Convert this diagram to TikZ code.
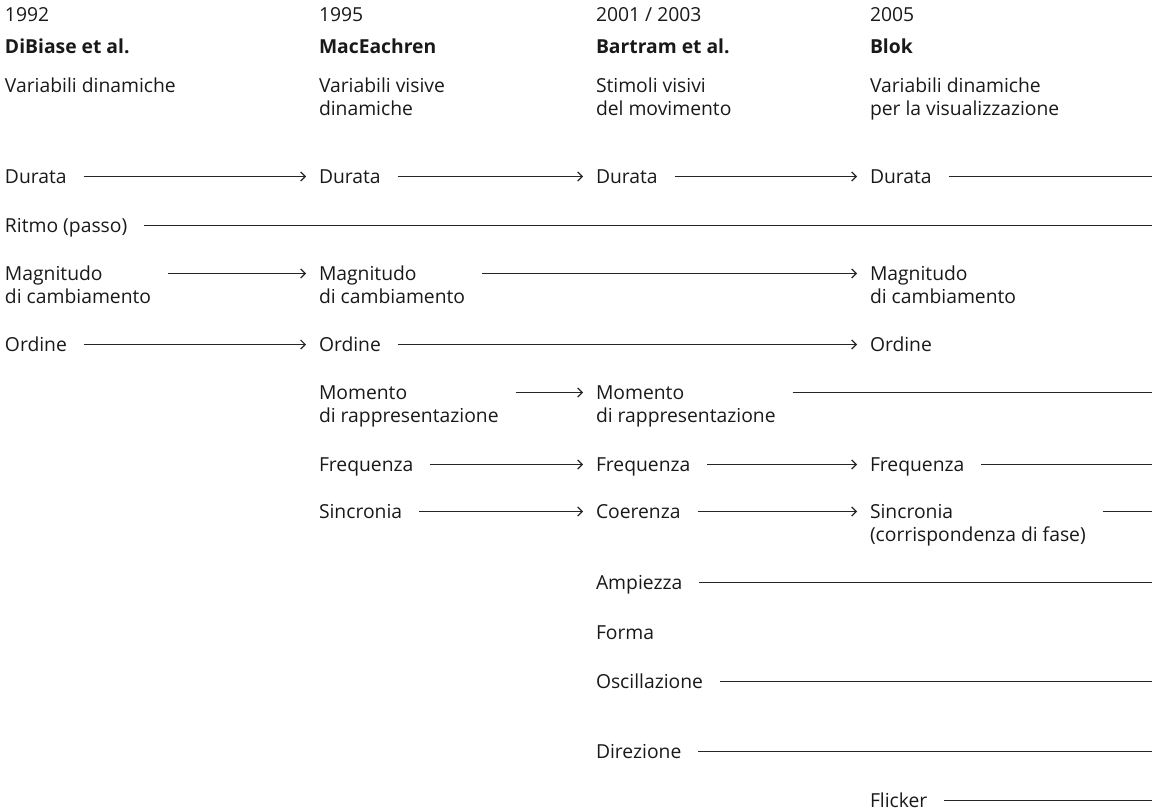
\documentclass[tikz,border=0pt]{standalone}
\usepackage{fontspec}
\setmainfont{Open Sans}
\usetikzlibrary{arrows.meta,calc}

% two lines set on a common left edge, baseline on the first line
\newcommand{\twolines}[2]{\vtop{\hbox{#1}\hbox{#2}}}

\begin{document}
\begin{tikzpicture}[x=1pt,y=-1pt,
  lbl/.style={anchor=base west,inner sep=0pt,outer sep=0pt,
    text=black!90,font=\fontsize{19.3}{23}\selectfont},
  head/.style={lbl,font=\fontsize{19.3}{23}\selectfont\bfseries},
  ln/.style={draw=black!85,line width=1.2pt},
  arr/.style={ln,-{Straight Barb[length=4.5pt,width=9pt]}}
]
\useasboundingbox (0,0) rectangle (1152,811);
\coordinate (rightedge) at (1152,0);

% column headers
\node[lbl]  (y1) at (5,21)   {1992};
\node[lbl]  (y2) at (319,21) {1995};
\node[lbl]  (y3) at (596,21) {2001 / 2003};
\node[lbl]  (y4) at (870,21) {2005};
\node[head] (h1) at (5,53)   {DiBiase et al.};
\node[head] (h2) at (319,53) {MacEachren};
\node[head] (h3) at (596,53) {Bartram et al.};
\node[head] (h4) at (870,53) {Blok};
\node[lbl]  (t1) at (5,92)   {Variabili dinamiche};
\node[lbl]  (t2) at (319,92) {\twolines{Variabili visive}{dinamiche}};
\node[lbl]  (t3) at (596,92) {\twolines{Stimoli visivi}{del movimento}};
\node[lbl]  (t4) at (870,92) {\twolines{Variabili dinamiche}{per la visualizzazione}};

% DiBiase et al.
\node[lbl] (d1) at (5,183) {Durata};
\node[lbl] (r1) at (5,232) {Ritmo (passo)};
\node[lbl] (m1) at (5,280) {\twolines{Magnitudo}{di cambiamento}};
\node[lbl] (o1) at (5,351) {Ordine};

% MacEachren
\node[lbl] (d2)  at (319,183) {Durata};
\node[lbl] (m2)  at (319,280) {\twolines{Magnitudo}{di cambiamento}};
\node[lbl] (o2)  at (319,351) {Ordine};
\node[lbl] (mo2) at (319,399) {\twolines{Momento}{di rappresentazione}};
\node[lbl] (f2)  at (319,471) {Frequenza};
\node[lbl] (s2)  at (319,518) {Sincronia};

% Bartram et al.
\node[lbl] (d3)  at (596,183) {Durata};
\node[lbl] (mo3) at (596,399) {\twolines{Momento}{di rappresentazione}};
\node[lbl] (f3)  at (596,471) {Frequenza};
\node[lbl] (c3)  at (596,518) {Coerenza};
\node[lbl] (a3)  at (596,589) {Ampiezza};
\node[lbl] (fo3) at (596,639) {Forma};
\node[lbl] (os3) at (596,688) {Oscillazione};
\node[lbl] (di3) at (596,758) {Direzione};

% Blok
\node[lbl] (d4)  at (870,183) {Durata};
\node[lbl] (m4)  at (870,280) {\twolines{Magnitudo}{di cambiamento}};
\node[lbl] (o4)  at (870,351) {Ordine};
\node[lbl] (f4)  at (870,471) {Frequenza};
\node[lbl] (s4)  at (870,518) {\twolines{Sincronia}{(corrispondenza di fase)}};
\node[lbl] (fl4) at (870,807) {Flicker};

% arrows between columns
\foreach \a/\b in {d1/d2,d2/d3,d3/d4,m1/m2,m2/m4,o1/o2,o2/o4,
                   mo2/mo3,f2/f3,f3/f4,s2/c3,c3/s4}
  \draw[arr] ([shift={(17,-6.5)}]\a.base east) -- ([shift={(-13,-6.5)}]\b.base west);

% lines running out to the right edge
\foreach \a in {d4,r1,mo3,f4,s4,a3,os3,di3,fl4}
  \draw[ln] ([shift={(17,-6.5)}]\a.base east) -- ($(\a.base -| rightedge)+(0,-6.5)$);
\end{tikzpicture}
\end{document}
